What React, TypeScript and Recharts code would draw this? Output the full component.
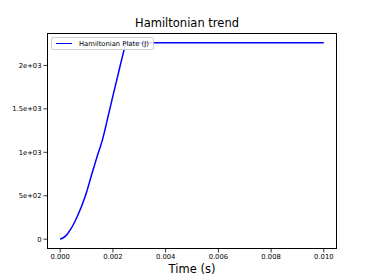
import { LineChart, Line, XAxis, YAxis } from "recharts";

// time (s)
const times = [
  0, 0.0002, 0.0004, 0.0006, 0.0008, 0.001, 0.0012, 0.0014, 0.0016, 0.0018,
  0.002, 0.0022, 0.0024, 0.0025, 0.003, 0.004, 0.005, 0.006, 0.007, 0.008,
  0.009, 0.01,
];
// Hamiltonian Plate (J)
const hamiltonian = [
  0, 35, 115, 230, 370, 540, 750, 950, 1140, 1390, 1650, 1900, 2150, 2260,
  2260, 2260, 2260, 2260, 2260, 2260, 2260, 2260,
];

const xTicks = [0, 0.002, 0.004, 0.006, 0.008, 0.01];
const yTicks = [0, 500, 1000, 1500, 2000];
const yTickLabels = ["0", "5e+02", "1e+03", "1.5e+03", "2e+03"];

const data = times.map((t, i) => ({ t, h: hamiltonian[i] }));

const FONT = "DejaVu Sans, sans-serif";

export default function App() {
  return (
    <div
      style={{
        position: "absolute",
        left: 0,
        top: 0,
        width: 374,
        height: 280,
        background: "#fff",
        fontFamily: FONT,
      }}
    >
      <div
        style={{
          position: "absolute",
          left: 0,
          width: 374,
          top: 16,
          textAlign: "center",
          fontSize: 11.5,
          color: "#000",
        }}
      >
        Hamiltonian trend
      </div>
      <LineChart
        width={374}
        height={280}
        data={data}
        margin={{ top: 33, right: 37, left: 0, bottom: 0 }}
      >
        <XAxis
          dataKey="t"
          type="number"
          domain={[-0.0005, 0.0105]}
          ticks={xTicks}
          allowDataOverflow
          tickFormatter={(v: number) => v.toFixed(3)}
          tick={{ fill: "#000", fontSize: 6.8, fontFamily: FONT }}
          tickSize={3.5}
          tickLine={{ stroke: "#000", strokeWidth: 0.8 }}
          axisLine={false}
          height={31}
        />
        <YAxis
          type="number"
          domain={[-113, 2373]}
          ticks={yTicks}
          allowDataOverflow
          tickFormatter={(v: number) => yTickLabels[yTicks.indexOf(v)] ?? ""}
          tick={{ fill: "#000", fontSize: 6.8, fontFamily: FONT }}
          tickSize={3.5}
          tickLine={{ stroke: "#000", strokeWidth: 0.8 }}
          axisLine={false}
          width={47}
        />
        <Line
          type="monotone"
          dataKey="h"
          stroke="#0000ff"
          strokeWidth={1.5}
          dot={false}
          isAnimationActive={false}
        />
      </LineChart>
      <div
        style={{
          position: "absolute",
          left: 51,
          top: 37,
          width: 103,
          height: 13,
          display: "flex",
          alignItems: "center",
          border: "1px solid #d0d0d0",
          borderRadius: 2,
          background: "rgba(255,255,255,0.85)",
          paddingLeft: 4,
          fontSize: 6.8,
          boxSizing: "border-box",
          color: "#000",
        }}
      >
        <span
          style={{
            display: "inline-block",
            width: 16,
            height: 1.5,
            background: "#0000ff",
            marginRight: 7,
          }}
        />
        Hamiltonian Plate (J)
      </div>
      <div
        style={{
          position: "absolute",
          left: 47,
          top: 33,
          width: 290,
          height: 216,
          border: "0.8px solid #000",
          boxSizing: "border-box",
          pointerEvents: "none",
        }}
      />
      <div
        style={{
          position: "absolute",
          left: 47,
          width: 290,
          top: 262,
          textAlign: "center",
          fontSize: 11.5,
          color: "#000",
        }}
      >
        Time (s)
      </div>
    </div>
  );
}
